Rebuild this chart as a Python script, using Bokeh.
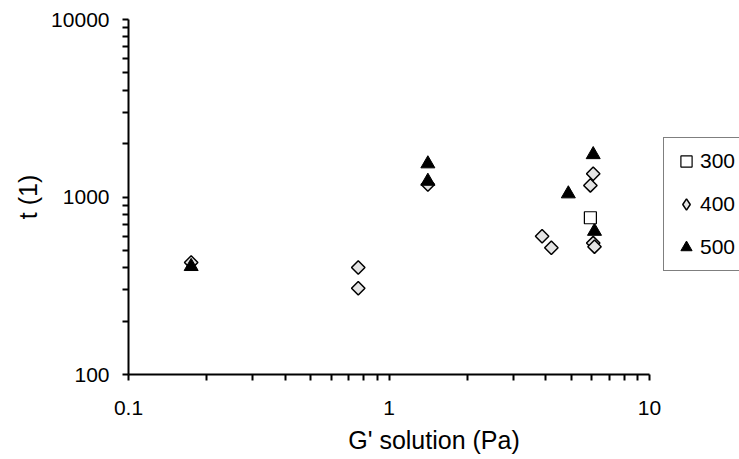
import math
from bokeh.plotting import figure
from bokeh.models import FixedTicker, Legend, LegendItem
from bokeh.embed import file_html
from bokeh.resources import INLINE

# Data (G' solution in Pa, t in units of (1))
g300 = [5.93]
t300 = [764]

g400 = [0.174, 0.762, 0.762, 1.41, 3.87, 4.20, 5.93, 6.08, 6.08, 6.15]
t400 = [428, 401, 306, 1175, 601, 518, 1162, 1352, 550, 525]

g500 = [0.174, 1.41, 1.41, 4.88, 6.08, 6.15]
t500 = [406, 1538, 1227, 1042, 1733, 641]

x_major = [0.1, 1, 10]
x_minor = [0.2, 0.3, 0.4, 0.5, 0.6, 0.7, 0.8, 0.9,
           2, 3, 4, 5, 6, 7, 8, 9]
y_major = [100, 1000, 10000]
y_minor = [200, 300, 400, 500, 600, 700, 800, 900,
           2000, 3000, 4000, 5000, 6000, 7000, 8000, 9000]
x_labels = {0.1: "0.1", 1: "1", 10: "10"}
y_labels = {100: "100", 1000: "1000", 10000: "10000"}

FONT = "Liberation Sans"
DIAMOND_FILL = "#e4e4e4"

W, H = 739, 459
LEFT, TOP, BOTTOM = 128, 19, 85
AXIS_PX = 521  # pixels from 0.1 to 10 on the x axis
frame_w = W - LEFT
x_end = 10 ** (-1 + 2 * frame_w / AXIS_PX)  # room at right for the legend

p = figure(width=W, height=H, x_axis_type="log", y_axis_type="log",
           x_range=(0.1, x_end), y_range=(100, 10000),
           output_backend="svg", toolbar_location=None,
           min_border_left=LEFT, min_border_right=0,
           min_border_top=TOP, min_border_bottom=BOTTOM)
p.outline_line_color = None
p.xgrid.visible = False
p.ygrid.visible = False
p.background_fill_color = "white"
p.border_fill_color = "white"

for ax, major, minor, labels in ((p.xaxis[0], x_major, x_minor, x_labels),
                                 (p.yaxis[0], y_major, y_minor, y_labels)):
    ax.ticker = FixedTicker(ticks=major, minor_ticks=minor)
    ax.major_label_overrides = labels
    ax.axis_line_color = "black"
    ax.axis_line_width = 2
    ax.major_tick_line_color = "black"
    ax.minor_tick_line_color = "black"
    ax.major_tick_line_width = 2
    ax.minor_tick_line_width = 2
    ax.major_tick_in = 0
    ax.major_tick_out = 6
    ax.minor_tick_in = 0
    ax.minor_tick_out = 6
    ax.major_label_text_font = FONT
    ax.major_label_text_font_size = "21px"
    ax.major_label_text_color = "black"
    ax.axis_label_text_font = FONT
    ax.axis_label_text_font_size = "25px"
    ax.axis_label_text_font_style = "normal"
    ax.axis_label_text_color = "black"

p.xaxis.bounds = (0.1, 10)
p.xaxis.axis_label = "G' solution (Pa)"
p.yaxis.axis_label = "t (1)"
p.xaxis.major_label_standoff = 20
p.yaxis.major_label_standoff = 13
p.xaxis.axis_label_standoff = 8
p.yaxis.axis_label_standoff = 6

# legend key glyph for the 400 series (legend glyphs ignore rotation);
# drawn first at the first 400 point, fully hidden under the real marker
r400_key = p.scatter(g400[:1], t400[:1], marker="diamond", size=12,
                     line_color="black", line_width=1.5, fill_color=DIAMOND_FILL)
r400 = p.scatter(g400, t400, marker="square", size=9.5, angle=math.pi / 4,
                 line_color="black", line_width=1.5, fill_color=DIAMOND_FILL)
r500 = p.scatter(g500, t500, marker="triangle", size=14,
                 line_color="black", line_width=1, fill_color="black")
r300 = p.scatter(g300, t300, marker="square", size=12,
                 line_color="black", line_width=1.2, fill_color="white")

legend = Legend(items=[LegendItem(label="300", renderers=[r300]),
                       LegendItem(label="400", renderers=[r400_key]),
                       LegendItem(label="500", renderers=[r500])],
                location=(535, 103))
legend.border_line_color = "black"
legend.border_line_width = 1.5
legend.background_fill_color = "white"
legend.label_text_font = FONT
legend.label_text_font_size = "21px"
legend.label_text_color = "black"
legend.padding = 8
legend.spacing = 13
legend.label_height = 30
legend.label_width = 34
legend.glyph_height = 30
legend.glyph_width = 28
legend.label_standoff = -2
legend.margin = 0
p.add_layout(legend, "center")

open("out.html", "w").write(file_html(p, INLINE))
